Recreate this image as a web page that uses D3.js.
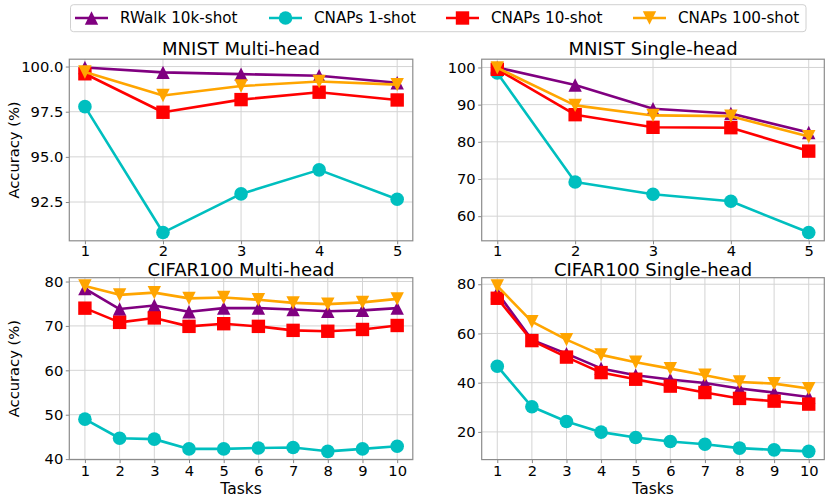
<!DOCTYPE html>
<html><head><meta charset="utf-8">
<script src="https://cdn.jsdelivr.net/npm/d3@7"></script>
<style>body{margin:0;background:#fff}svg{display:block;font-family:"DejaVu Sans",sans-serif}</style>
</head><body><svg id="c" width="831" height="501"></svg>
<script>
// ---------- data ----------
const seriesNames = ["RWalk 10k-shot", "CNAPs 1-shot", "CNAPs 10-shot", "CNAPs 100-shot"];
const tasks5 = [1, 2, 3, 4, 5];
const tasks10 = [1, 2, 3, 4, 5, 6, 7, 8, 9, 10];

const mnistMultiRWalk   = [99.95, 99.68, 99.58, 99.49, 99.10];
const mnistMultiCNAPs1  = [97.78, 90.81, 92.95, 94.28, 92.65];
const mnistMultiCNAPs10 = [99.60, 97.47, 98.17, 98.58, 98.15];
const mnistMultiCNAPs100= [99.70, 98.40, 98.92, 99.17, 99.00];

const mnistSingleRWalk   = [100.0, 95.3, 88.9, 87.6, 82.5];
const mnistSingleCNAPs1  = [98.5, 69.2, 65.9, 64.0, 55.6];
const mnistSingleCNAPs10 = [99.5, 87.3, 83.9, 83.8, 77.5];
const mnistSingleCNAPs100= [99.9, 89.8, 87.1, 86.9, 81.4];

const cifarMultiRWalk   = [78.4, 73.8, 74.6, 73.2, 74.0, 74.0, 73.7, 73.3, 73.5, 74.0];
const cifarMultiCNAPs1  = [49.0, 44.7, 44.5, 42.3, 42.3, 42.5, 42.6, 41.75, 42.3, 42.9];
const cifarMultiCNAPs10 = [74.0, 70.8, 71.8, 69.9, 70.5, 69.9, 69.0, 68.8, 69.2, 70.1];
const cifarMultiCNAPs100= [79.0, 77.0, 77.5, 76.2, 76.4, 75.9, 75.2, 74.9, 75.3, 76.1];

const cifarSingleRWalk   = [76.6, 57.4, 51.8, 45.8, 43.0, 41.3, 39.9, 37.6, 36.0, 34.2];
const cifarSingleCNAPs1  = [46.7, 30.2, 24.2, 19.9, 17.7, 16.1, 15.0, 13.4, 12.7, 12.1];
const cifarSingleCNAPs10 = [74.3, 57.1, 50.4, 44.1, 41.4, 38.6, 36.0, 33.6, 32.5, 31.3];
const cifarSingleCNAPs100= [79.3, 64.8, 57.5, 51.3, 48.3, 45.7, 43.0, 40.3, 39.6, 37.6];

const yTicksMnistMulti = [92.5, 95.0, 97.5, 100.0];
const yTicksMnistSingle = [60, 70, 80, 90, 100];
const yTicksCifarMulti = [40, 50, 60, 70, 80];
const yTicksCifarSingle = [20, 40, 60, 80];

// ---------- styles ----------
const colors = ["#800080", "#00bfbf", "#ff0000", "#ffa500"];
const shapes = ["triUp", "circle", "square", "triDown"];
const FONT = 14.7;
const LEGEND_FONT = 15.2;

const panels = [
  {title: "MNIST Multi-head", x: tasks5, series: [mnistMultiRWalk, mnistMultiCNAPs1, mnistMultiCNAPs10, mnistMultiCNAPs100],
   yTicks: yTicksMnistMulti, fmt: d3.format(".1f"), box: [69.3, 412.8, 59.2, 240.8], ylabel: true, xlabel: false, titleGap: 3.8, tickY: 15},
  {title: "MNIST Single-head", x: tasks5, series: [mnistSingleRWalk, mnistSingleCNAPs1, mnistSingleCNAPs10, mnistSingleCNAPs100],
   yTicks: yTicksMnistSingle, fmt: d3.format("d"), box: [481.7, 824.3, 59.2, 240.8], ylabel: false, xlabel: false, titleGap: 3.8, tickY: 15},
  {title: "CIFAR100 Multi-head", x: tasks10, series: [cifarMultiRWalk, cifarMultiCNAPs1, cifarMultiCNAPs10, cifarMultiCNAPs100],
   yTicks: yTicksCifarMulti, fmt: d3.format("d"), box: [69.3, 412.8, 277.7, 459.6], ylabel: true, xlabel: true, titleGap: 1.8, tickY: 16.6},
  {title: "CIFAR100 Single-head", x: tasks10, series: [cifarSingleRWalk, cifarSingleCNAPs1, cifarSingleCNAPs10, cifarSingleCNAPs100],
   yTicks: yTicksCifarSingle, fmt: d3.format("d"), box: [481.7, 824.3, 277.7, 459.6], ylabel: false, xlabel: true, titleGap: 1.8, tickY: 16.6}
];

const svg = d3.select("#c");

function markerPath(shape) {
  const s = 6.7; // half size
  if (shape === "triUp") return `M0,${-s}L${s},${s}L${-s},${s}Z`;
  if (shape === "triDown") return `M0,${s}L${s},${-s}L${-s},${-s}Z`;
  if (shape === "square") return `M${-s},${-s}H${s}V${s}H${-s}Z`;
  return null;
}
function drawMarker(g, shape, color, cx, cy) {
  if (shape === "circle") {
    g.append("circle").attr("cx", cx).attr("cy", cy).attr("r", 6.8).attr("fill", color);
  } else {
    g.append("path").attr("d", markerPath(shape)).attr("transform", `translate(${cx},${cy})`).attr("fill", color);
  }
}

panels.forEach(p => {
  const [x0, x1, y0, y1] = p.box;
  const xmin = d3.min(p.x), xmax = d3.max(p.x), xpad = (xmax - xmin) * 0.05;
  const xs = d3.scaleLinear().domain([xmin - xpad, xmax + xpad]).range([x0, x1]);
  const all = p.series.flat();
  const ymin = d3.min(all), ymax = d3.max(all), ypad = (ymax - ymin) * 0.05;
  const ys = d3.scaleLinear().domain([ymin - ypad, ymax + ypad]).range([y1, y0]);

  const g = svg.append("g");
  // grid
  g.append("g").selectAll("line").data(p.x).join("line")
    .attr("x1", d => xs(d)).attr("x2", d => xs(d)).attr("y1", y0).attr("y2", y1)
    .attr("stroke", "#d4d4d4").attr("stroke-width", 1);
  g.append("g").selectAll("line").data(p.yTicks).join("line")
    .attr("x1", x0).attr("x2", x1).attr("y1", d => ys(d)).attr("y2", d => ys(d))
    .attr("stroke", "#d4d4d4").attr("stroke-width", 1);

  // axes
  const xAxis = d3.axisBottom(xs).tickValues(p.x).tickFormat(d3.format("d")).tickSize(3.5).tickPadding(2.5);
  const gx = g.append("g").attr("transform", `translate(0,${y1})`).call(xAxis);
  const yAxis = d3.axisLeft(ys).tickValues(p.yTicks).tickFormat(p.fmt).tickSize(3.5).tickPadding(2.5);
  const gy = g.append("g").attr("transform", `translate(${x0},0)`).call(yAxis);
  [gx, gy].forEach(a => {
    a.attr("font-family", "DejaVu Sans");
    a.select(".domain").remove();
    a.selectAll(".tick line").attr("stroke", "#888");
    a.selectAll(".tick text").attr("font-size", FONT).attr("fill", "#000");
  });
  gx.selectAll(".tick text").attr("dy", null).attr("y", p.tickY);

  // frame
  g.append("rect").attr("x", x0).attr("y", y0).attr("width", x1 - x0).attr("height", y1 - y0)
    .attr("fill", "none").attr("stroke", "#8c8c8c").attr("stroke-width", 1.2);

  // series
  const line = d3.line().x((d, i) => xs(p.x[i])).y(d => ys(d));
  p.series.forEach((vals, si) => {
    const sg = g.append("g");
    sg.append("path").datum(vals).attr("d", line).attr("fill", "none")
      .attr("stroke", colors[si]).attr("stroke-width", 2.6).attr("stroke-linejoin", "round");
    vals.forEach((v, i) => drawMarker(sg, shapes[si], colors[si], xs(p.x[i]), ys(v)));
  });

  // title
  g.append("text").attr("x", (x0 + x1) / 2).attr("y", y0 - p.titleGap).attr("text-anchor", "middle")
    .attr("font-size", 18).text(p.title);
  if (p.ylabel) {
    g.append("text").attr("transform", `translate(19,${(y0 + y1) / 2}) rotate(-90)`)
      .attr("text-anchor", "middle").attr("font-size", FONT).text("Accuracy (%)");
  }
  if (p.xlabel) {
    g.append("text").attr("x", (x0 + x1) / 2).attr("y", y1 + 34).attr("text-anchor", "middle")
      .attr("font-size", 15.5).text("Tasks");
  }
});

// legend
const lg = svg.append("g");
lg.append("rect").attr("x", 70.5).attr("y", 4.7).attr("width", 735.5).attr("height", 27)
  .attr("rx", 3).attr("fill", "#fff").attr("stroke", "#d0d0d0").attr("stroke-width", 1);
const legendX = [75, 269, 446, 633];
seriesNames.forEach((name, i) => {
  const lx = legendX[i], ly = 18;
  lg.append("line").attr("x1", lx).attr("x2", lx + 33).attr("y1", ly).attr("y2", ly)
    .attr("stroke", colors[i]).attr("stroke-width", 2.6);
  drawMarker(lg, shapes[i], colors[i], lx + 16.5, ly);
  lg.append("text").attr("x", lx + 45).attr("y", 22.9).attr("font-size", LEGEND_FONT).text(name);
});
</script></body></html>
